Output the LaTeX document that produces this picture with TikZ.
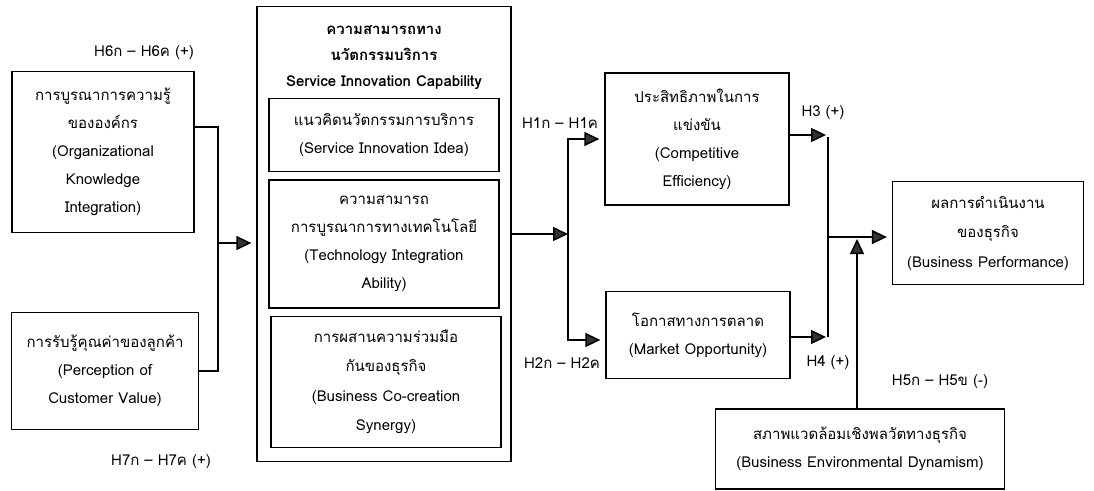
\documentclass[tikz,border=0pt]{standalone}
\usepackage{fontspec}
\setmainfont[Script=Thai]{Loma}
\usetikzlibrary{arrows.meta,positioning}

\begin{document}
\begin{tikzpicture}[x=1pt, y=-1pt, >={Triangle[length=15pt,width=14pt,fill=black!80]},
  every node/.style={font=\fontsize{15}{28}\selectfont},
  box/.style={draw, line width=1.3pt, align=center, inner sep=0pt},
  arr/.style={->, line width=1.5pt, shorten >=5pt},
  link/.style={line width=1.5pt}]
\path[use as bounding box] (0,0) rectangle (1094,490);
% independent variables
\node[box, minimum width=182pt, minimum height=161pt] (oki) at (103,152) {การบูรณาการความรู้\\ขององค์กร\\(Organizational\\Knowledge\\Integration)};
\node[box, minimum width=187pt, minimum height=117pt] (pcv) at (105,371) {การรับรู้คุณค่าของลูกค้า\\(Perception of\\Customer Value)};
% service innovation capability
\node[box, minimum width=254pt, minimum height=455pt] (sic) at (384,234) {};
\node[align=center, font=\fontsize{15}{26}\selectfont\bfseries] (sictitle) at (384,58) {ความสามารถทาง\\นวัตกรรมบริการ\\Service Innovation Capability};
\node[box, minimum width=230pt, minimum height=73pt] (idea) at (384,135) {แนวคิดนวัตกรรมการบริการ\\(Service Innovation Idea)};
\node[box, minimum width=230pt, minimum height=128pt] (tech) at (384,244) {ความสามารถ\\การบูรณาการทางเทคโนโลยี\\(Technology Integration\\Ability)};
\node[box, minimum width=230pt, minimum height=131pt, font=\fontsize{15}{29.5}\selectfont] (syn) at (386,382) {การผสานความร่วมมือ\\กันของธุรกิจ\\(Business Co-creation\\Synergy)};
% mediators and outcome
\node[box, minimum width=184pt, minimum height=132pt] (ce) at (697,139) {ประสิทธิภาพในการ\\แข่งขัน\\(Competitive\\Efficiency)};
\node[box, minimum width=184pt, minimum height=87pt] (mo) at (698,335) {โอกาสทางการตลาด\\(Market Opportunity)};
\node[box, minimum width=191pt, minimum height=103pt, font=\fontsize{15}{29.5}\selectfont] (bp) at (988,233) {ผลการดำเนินงาน\\ของธุรกิจ\\(Business Performance)};
\node[box, minimum width=289pt, minimum height=80pt] (bed) at (860,449) {สภาพแวดล้อมเชิงพลวัตทางธุรกิจ\\(Business Environmental Dynamism)};
% joints
\coordinate (inj) at (218,243);
\coordinate (fork) at (568,234);
\coordinate (outj) at (828,237);
% connectors
\draw[link] ([yshift=25pt]oki.east) -| (inj);
\draw[link] (pcv.east) -| (inj);
\draw[arr] (inj) -- (inj -| sic.west);
\draw[arr, shorten >=0pt] (sic.east) -- (fork);
\draw[arr] (fork) |- (ce.west);
\draw[arr] (fork) |- ([yshift=-5pt]mo.west);
\draw[arr, shorten >=2pt] ([yshift=4pt]ce.east) -- ([yshift=4pt]ce.east -| outj);
\draw[arr, shorten >=2pt] ([yshift=-2pt]mo.east) -- ([yshift=-2pt]mo.east -| outj);
\draw[link] ([yshift=2pt]ce.east -| outj) -- ([yshift=-2pt]mo.east -| outj);
\draw[arr] (outj) -- (outj -| bp.west);
\draw[arr, shorten >=2pt] ([xshift=-3pt]bed.north) -- ([xshift=-3pt]bed.north |- outj);
% hypotheses
\node (h6) at (144,53) {H6ก – H6ค (+)};
\node (h7) at (161,462) {H7ก – H7ค (+)};
\node (h1) at (560,123) {H1ก – H1ค};
\node (h2) at (562,363) {H2ก – H2ค};
\node (h3) at (823,113) {H3 (+)};
\node (h4) at (828,363) {H4 (+)};
\node (h5) at (940,382) {H5ก – H5ข (-)};
\end{tikzpicture}
\end{document}
